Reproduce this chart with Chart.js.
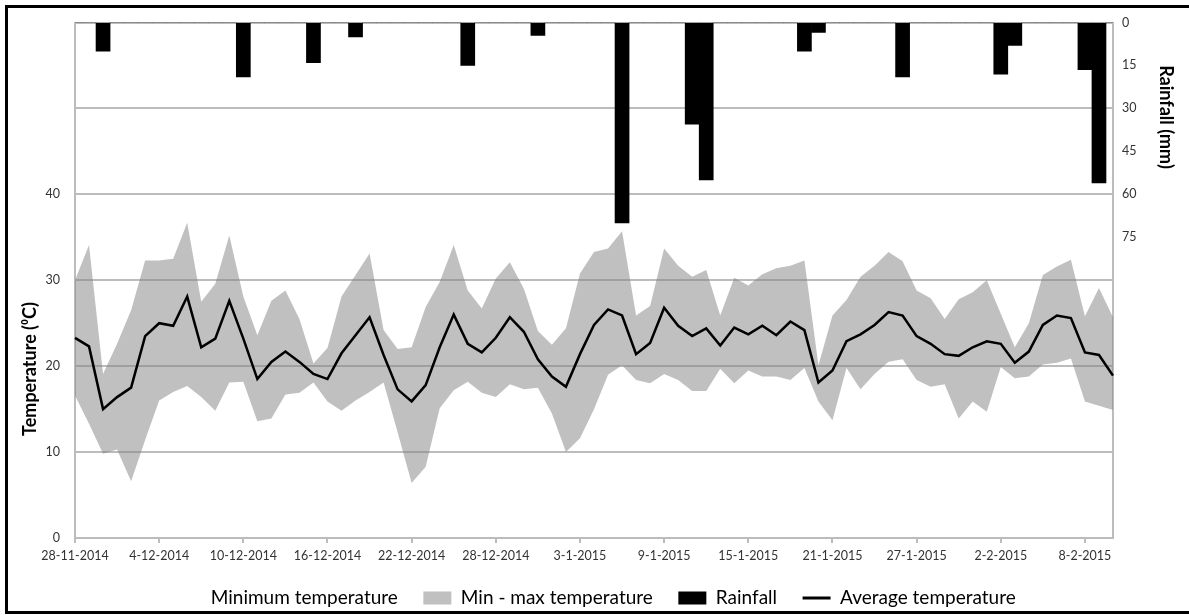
<!DOCTYPE html>
<html>
<head>
<meta charset="utf-8">
<script src="https://cdn.jsdelivr.net/npm/chart.js@4"></script>
<style>
  body { margin: 0; background: #fff; overflow: hidden; }
  #frame { position: absolute; left: 5px; top: 5px; width: 1300px; height: 609px; box-sizing: border-box; border: 3px solid #000; pointer-events: none; }
  #chart { position: absolute; left: 0; top: 0; }
</style>
</head>
<body>
<canvas id="chart" width="1189" height="615"></canvas>
<div id="frame"></div>
<script>
const dates = [
  '28-11-2014', '29-11-2014', '30-11-2014',
  '1-12-2014', '2-12-2014', '3-12-2014', '4-12-2014', '5-12-2014', '6-12-2014', '7-12-2014', '8-12-2014',
  '9-12-2014', '10-12-2014', '11-12-2014', '12-12-2014', '13-12-2014', '14-12-2014', '15-12-2014', '16-12-2014',
  '17-12-2014', '18-12-2014', '19-12-2014', '20-12-2014', '21-12-2014', '22-12-2014', '23-12-2014', '24-12-2014',
  '25-12-2014', '26-12-2014', '27-12-2014', '28-12-2014', '29-12-2014', '30-12-2014', '31-12-2014',
  '1-1-2015', '2-1-2015', '3-1-2015', '4-1-2015', '5-1-2015', '6-1-2015', '7-1-2015', '8-1-2015',
  '9-1-2015', '10-1-2015', '11-1-2015', '12-1-2015', '13-1-2015', '14-1-2015', '15-1-2015', '16-1-2015',
  '17-1-2015', '18-1-2015', '19-1-2015', '20-1-2015', '21-1-2015', '22-1-2015', '23-1-2015', '24-1-2015',
  '25-1-2015', '26-1-2015', '27-1-2015', '28-1-2015', '29-1-2015', '30-1-2015', '31-1-2015',
  '1-2-2015', '2-2-2015', '3-2-2015', '4-2-2015', '5-2-2015', '6-2-2015', '7-2-2015', '8-2-2015',
  '9-2-2015', '10-2-2015',
];

const minTemp = [
  16.6, 13.3, 9.8, 10.3, 6.6, 11.4, 16.0, 17.0, 17.7, 16.4, 14.8, 18.1, 18.2, 13.6, 13.9, 16.7, 16.9, 18.1, 15.9,
  14.8, 16.0, 17.0, 18.1, 12.3, 6.4, 8.3, 15.1, 17.2, 18.2, 16.9, 16.4, 17.9, 17.3, 17.5, 14.5, 10.0, 11.6, 15.0,
  19.0, 20.1, 18.4, 18.0, 19.1, 18.4, 17.1, 17.1, 19.7, 18.0, 19.5, 18.8, 18.8, 18.4, 19.8, 15.9, 13.7, 19.8,
  17.3, 19.1, 20.5, 20.8, 18.4, 17.6, 17.9, 13.9, 15.9, 14.7, 19.9, 18.6, 18.8, 20.2, 20.4, 20.9, 15.9, 15.4, 14.9,
];

const maxTemp = [
  30.0, 34.1, 19.1, 22.6, 26.5, 32.3, 32.3, 32.5, 36.7, 27.5, 29.6, 35.2, 28.1, 23.6, 27.6, 28.8, 25.5, 20.3, 22.1,
  28.1, 30.6, 33.1, 24.2, 22.0, 22.2, 26.9, 29.8, 34.1, 28.8, 26.7, 30.2, 32.1, 29.0, 24.1, 22.5, 24.4, 30.8, 33.3,
  33.7, 35.7, 25.9, 27.0, 33.7, 31.7, 30.4, 31.2, 25.9, 30.3, 29.4, 30.7, 31.4, 31.7, 32.3, 20.1, 25.9, 27.7,
  30.4, 31.7, 33.3, 32.2, 28.8, 27.9, 25.5, 27.8, 28.6, 30.0, 26.1, 22.2, 25.0, 30.6, 31.6, 32.4, 25.8, 29.1, 25.7,
];

const avgTemp = [
  23.3, 22.3, 15.0, 16.4, 17.5, 23.5, 25.0, 24.7, 28.1, 22.2, 23.2, 27.6, 23.2, 18.5, 20.5, 21.7, 20.5, 19.1, 18.5,
  21.5, 23.6, 25.7, 21.3, 17.3, 15.9, 17.8, 22.2, 26.0, 22.6, 21.6, 23.3, 25.7, 24.0, 20.8, 18.8, 17.6, 21.4, 24.8,
  26.6, 25.9, 21.4, 22.7, 26.8, 24.7, 23.5, 24.4, 22.4, 24.5, 23.7, 24.7, 23.6, 25.2, 24.2, 18.1, 19.5, 22.9,
  23.7, 24.8, 26.3, 25.9, 23.5, 22.6, 21.4, 21.2, 22.2, 22.9, 22.6, 20.4, 21.7, 24.8, 25.9, 25.6, 21.6, 21.3, 18.9,
];

const rainfall = [
  0, 0, 10, 0, 0, 0, 0, 0, 0, 0, 0, 0, 19, 0, 0, 0, 0, 14, 0, 0, 5, 0, 0, 0, 0, 0, 0, 0, 15, 0,
  0, 0, 0, 4.5, 0, 0, 0, 0, 0, 70, 0, 0, 0, 0, 35.5, 55, 0, 0, 0, 0, 0, 0, 10, 3.5, 0, 0, 0, 0, 0, 19,
  0, 0, 0, 0, 0, 0, 18, 8, 0, 0, 0, 0, 16.5, 56, 0,
];

const tempTickMax = 40;
const rainTickMax = 75;
const labelEvery = 6;

const gridGrey = '#bcbcbc';
const tickFont = { family: 'Lato', size: 12.5 };

const axisTitles = {
  id: 'axisTitles',
  afterDraw(chart) {
    const { ctx } = chart;
    ctx.save();
    ctx.fillStyle = '#000';
    ctx.font = 'bold 18px Lato';
    ctx.textAlign = 'center';
    ctx.textBaseline = 'middle';
    ctx.translate(30, 369);
    ctx.rotate(-Math.PI / 2);
    ctx.fillText('Temperature (⁰C)', 0, 0);
    ctx.restore();
    ctx.save();
    ctx.fillStyle = '#000';
    ctx.font = 'bold 18px Lato';
    ctx.textAlign = 'center';
    ctx.textBaseline = 'middle';
    ctx.translate(1166, 117);
    ctx.rotate(Math.PI / 2);
    ctx.fillText('Rainfall (mm)', 0, 0);
    ctx.restore();
  },
};

const legendLook = [
  { pointStyle: 'rect', fillStyle: 'rgba(0,0,0,0)', strokeStyle: 'rgba(0,0,0,0)', lineWidth: 0 },
  { pointStyle: 'rect', fillStyle: '#c0c0c0', strokeStyle: '#c0c0c0', lineWidth: 0 },
  { pointStyle: 'rect', fillStyle: '#000', strokeStyle: '#000', lineWidth: 0 },
  { pointStyle: 'line', fillStyle: '#000', strokeStyle: '#000', lineWidth: 3 },
];

new Chart(document.getElementById('chart'), {
  type: 'line',
  data: {
    labels: dates,
    datasets: [
      {
        label: 'Minimum temperature',
        data: minTemp,
        yAxisID: 'y',
        borderWidth: 0,
        borderColor: 'rgba(0,0,0,0)',
        backgroundColor: 'rgba(0,0,0,0)',
        pointRadius: 0,
        fill: false,
        order: 2,
      },
      {
        label: 'Min - max temperature',
        data: maxTemp,
        yAxisID: 'y',
        borderWidth: 0,
        borderColor: 'rgba(0,0,0,0)',
        backgroundColor: 'rgba(129,129,129,0.5)',
        pointRadius: 0,
        fill: '-1',
        order: 1,
      },
      {
        type: 'bar',
        label: 'Rainfall',
        data: rainfall,
        yAxisID: 'yR',
        backgroundColor: '#000',
        barPercentage: 1,
        categoryPercentage: 1,
        order: 0,
      },
      {
        label: 'Average temperature',
        data: avgTemp,
        yAxisID: 'y',
        borderColor: '#000',
        borderWidth: 2.5,
        pointRadius: 0,
        fill: false,
        tension: 0,
        order: -1,
      },
    ],
  },
  options: {
    responsive: false,
    animation: false,
    devicePixelRatio: 1,
    layout: { padding: { left: 0, right: 0, top: 22, bottom: -2.5 } },
    plugins: {
      tooltip: { enabled: false },
      legend: {
        position: 'bottom',
        labels: {
          usePointStyle: true,
          pointStyleWidth: 28,
          boxHeight: 13,
          padding: 25.5,
          color: '#000',
          font: { family: 'Lato', size: 19 },
          sort: (a, b) => a.datasetIndex - b.datasetIndex,
          generateLabels: (chart) => chart.data.datasets.map((ds, i) => ({
            text: ds.label,
            datasetIndex: i,
            hidden: false,
            ...legendLook[i],
          })),
        },
      },
    },
    scales: {
      x: {
        type: 'category',
        offset: false,
        afterFit: (s) => { s.height = 25; },
        grid: {
          offset: false,
          drawOnChartArea: false,
          drawTicks: true,
          tickLength: 5,
          color: gridGrey,
          lineWidth: 2,
        },
        border: { display: true, color: gridGrey, width: 2 },
        ticks: {
          autoSkip: false,
          maxRotation: 0,
          padding: 5,
          color: '#333',
          font: tickFont,
          callback: (v, i) => (i % labelEvery === 0 ? dates[i] : null),
        },
      },
      y: {
        position: 'left',
        min: 0,
        max: 60,
        afterFit: (s) => { s.width = 75; },
        grid: { color: gridGrey, lineWidth: 2, drawTicks: false },
        border: { display: true, color: gridGrey, width: 2 },
        ticks: {
          stepSize: 10,
          padding: 15,
          color: '#333',
          font: tickFont,
          callback: (v) => (v <= tempTickMax ? v : ''),
        },
      },
      yR: {
        position: 'right',
        reverse: true,
        min: 0,
        max: 180,
        afterFit: (s) => { s.width = 76; },
        grid: { drawOnChartArea: false, drawTicks: false },
        border: { display: true, color: gridGrey, width: 2 },
        ticks: {
          stepSize: 15,
          padding: 9,
          color: '#333',
          font: tickFont,
          callback: (v) => (v <= rainTickMax ? v : ''),
        },
      },
    },
  },
  plugins: [axisTitles],
});
</script>
</body>
</html>
